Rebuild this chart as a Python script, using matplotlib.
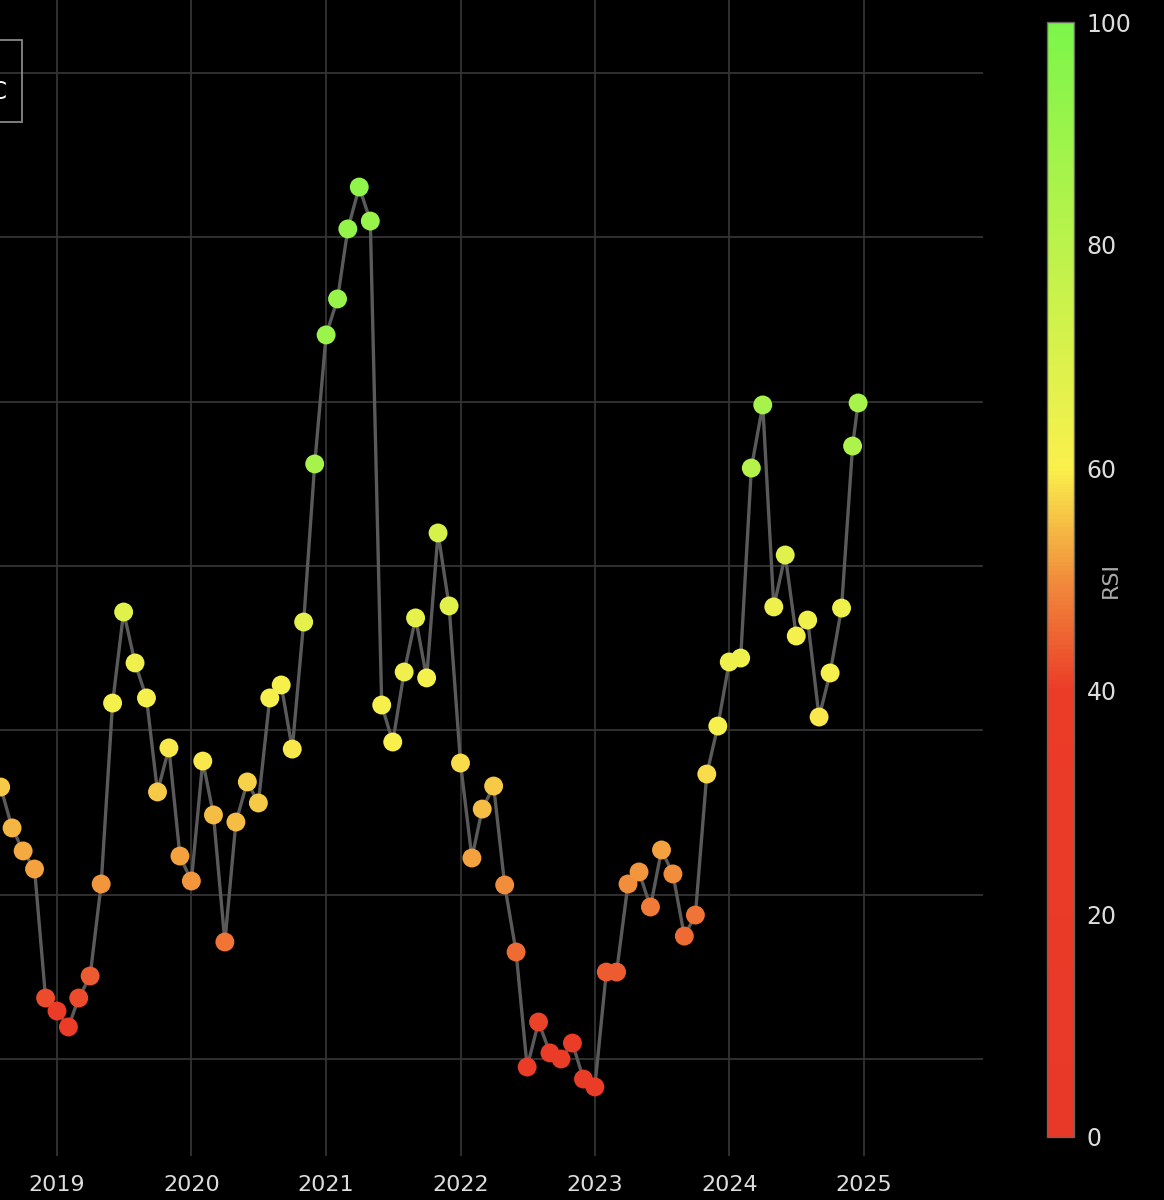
import numpy as np
import pandas as pd
import matplotlib
matplotlib.use('Agg')
import matplotlib.pyplot as plt
import matplotlib.dates as mdates
from matplotlib.colors import LinearSegmentedColormap
from matplotlib.patches import Rectangle

# ---------------- data ----------------
dates = list(pd.date_range('2018-08-01', '2024-12-01', freq='MS')) + [pd.Timestamp('2024-12-16')]

price = [26.55, 24.06, 22.66, 21.56, 13.71, 12.92, 11.95, 13.71, 15.05, 20.65,
         31.66, 37.20, 34.10, 31.97, 26.25, 28.93, 22.35, 20.83, 28.13, 24.85,
         17.12, 24.42, 26.86, 25.58, 31.97, 32.76, 28.86, 36.59, 46.21, 54.06,
         56.25, 60.51, 63.06, 60.99, 31.54, 29.29, 33.55, 36.84, 33.19, 42.01,
         37.57, 28.01, 22.23, 25.21, 26.61, 20.59, 16.51, 9.51, 12.25, 10.37,
         10.00, 10.97, 8.78, 8.30, 15.29, 15.29, 20.65, 21.38, 19.25, 22.72,
         21.26, 17.48, 18.76, 27.34, 30.26, 34.16, 34.40, 45.96, 49.80, 37.51,
         40.67, 35.74, 36.71, 30.81, 33.49, 37.44, 47.30, 49.92]

rsi = [56, 54, 53, 52, 42, 40, 38, 42, 44, 51,
       62, 68, 63, 61, 56, 59, 52, 51, 59, 55,
       47, 55, 57, 56, 61, 61, 59, 67, 86, 90,
       91, 92, 93, 91, 61, 60, 63, 66, 62, 71,
       68, 58, 52, 55, 56, 50, 46, 38, 41, 39,
       38, 40, 37, 36, 44, 44, 50, 51, 48, 52,
       50, 46, 47, 58, 61, 64, 64, 82, 86, 64,
       68, 62, 63, 59, 61, 64, 84, 87]

year_ticks = [2019, 2020, 2021, 2022, 2023, 2024, 2025]
y_grid = [10, 20, 30, 40, 50, 60, 70]
cbar_ticks = [0, 20, 40, 60, 80, 100]
legend_text = "BTC"

# ---------------- style ----------------
W, H = 1164, 1200
fig = plt.figure(figsize=(W / 100, H / 100), dpi=100, facecolor='black')
plt.rcParams['font.family'] = ['DejaVu Sans']

# plot area in pixel coords (partly off the left edge, like the reference crop)
ax_l, ax_r, ax_t, ax_b = -22, 983, 0, 1156
ax = fig.add_axes([ax_l / W, 1 - ax_b / H, (ax_r - ax_l) / W, (ax_b - ax_t) / H])
ax.set_facecolor('black')

# x scale: 2019 tick at px 57, 2025 tick at px 864
d19 = mdates.date2num(pd.Timestamp('2019-01-01'))
d25 = mdates.date2num(pd.Timestamp('2025-01-01'))
ppd = (864 - 57) / (d25 - d19)
ax.set_xlim(d19 - (57 - ax_l) / ppd, d19 + (ax_r - 57) / ppd)

# y scale: gridline 10 at px 1059, 70 at px 73
ppu = (1059 - 73) / 60.0
ax.set_ylim(10 - (ax_b - 1059) / ppu, 70 + (73 - ax_t) / ppu)

cmap = LinearSegmentedColormap.from_list('rsi', [
    (0.00, (232/255, 56/255, 40/255)),
    (0.40, (235/255, 60/255, 40/255)),
    (0.50, (241/255, 140/255, 60/255)),
    (0.60, (250/255, 240/255, 76/255)),
    (1.00, (124/255, 245/255, 74/255)),
])

xd = mdates.date2num(dates)
ax.plot(xd, price, color='#5a5a5a', lw=2.4, zorder=2, solid_joinstyle='round')
sc = ax.scatter(xd, price, c=rsi, cmap=cmap, vmin=0, vmax=100, s=185,
                edgecolors='none', zorder=3)

ax.set_xticks([mdates.date2num(pd.Timestamp(f'{y}-01-01')) for y in year_ticks])
ax.set_xticklabels([str(y) for y in year_ticks])
ax.set_yticks(y_grid)
ax.tick_params(axis='x', length=0, pad=14, labelsize=16, labelcolor='#dddddd')
ax.tick_params(axis='y', length=0, labelleft=False)
ax.grid(True, color='#333333', lw=1.3)
ax.set_axisbelow(True)
for s in ax.spines.values():
    s.set_visible(False)

# colorbar
cb_l, cb_r, cb_t, cb_b = 1047, 1074, 22, 1137
cax = fig.add_axes([cb_l / W, 1 - cb_b / H, (cb_r - cb_l) / W, (cb_b - cb_t) / H])
cb = fig.colorbar(sc, cax=cax)
cb.set_ticks(cbar_ticks)
cb.ax.tick_params(length=0, pad=9, labelsize=17, labelcolor='#dddddd')
cb.outline.set_edgecolor('#666666')
cb.outline.set_linewidth(1.0)
fig.text(1111 / W, 1 - 580 / H, 'RSI', color='#aaaaaa', fontsize=16,
         rotation=90, ha='center', va='center')

# partially visible legend box at top-left
fig.patches.append(Rectangle((-100 / W, 1 - 122 / H), (100 + 22) / W, (122 - 40) / H,
                             transform=fig.transFigure, fill=False,
                             edgecolor='#888888', lw=1.3))
fig.text(8 / W, 1 - 92 / H, legend_text, color='white', fontsize=17,
         ha='right', va='center')

fig.savefig('out.png', dpi=100, facecolor='black')
